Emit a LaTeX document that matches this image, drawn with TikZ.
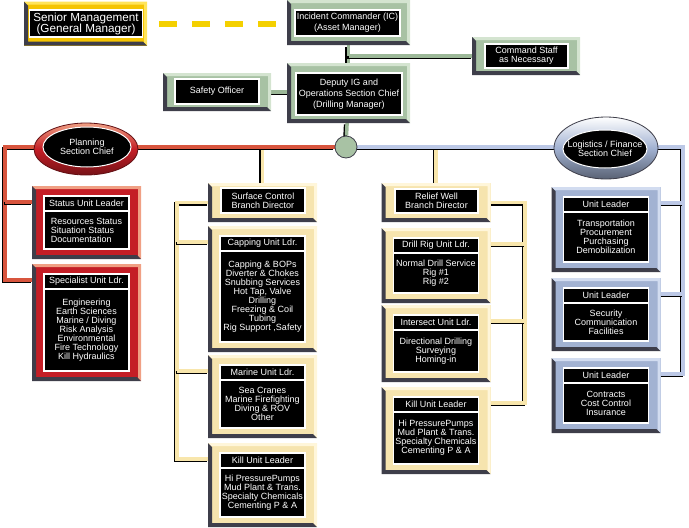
\documentclass[tikz,border=0pt]{standalone}
\usepackage{fontspec}
\setmainfont{Liberation Sans}
\usetikzlibrary{positioning,shapes.geometric,backgrounds}

\definecolor{seniorgold}{HTML}{F5C400}
\definecolor{seniorgoldlight}{HTML}{FFE45A}
\definecolor{sage}{HTML}{A8C2A4}
\definecolor{sagelight}{HTML}{D4E4D0}
\definecolor{boxred}{HTML}{C41E26}
\definecolor{boxredlight}{HTML}{F0A084}
\definecolor{cream}{HTML}{F6E4AE}
\definecolor{creamlight}{HTML}{FFF6DA}
\definecolor{steel}{HTML}{A2B2D2}
\definecolor{steellight}{HTML}{D2DCF0}
\definecolor{edgedark}{HTML}{3E3E4A}
\definecolor{redline}{HTML}{D8553E}
\definecolor{blueline}{HTML}{BCC8E6}
\definecolor{creamline}{HTML}{F8E6AC}
\definecolor{sageline}{HTML}{9CB898}
\definecolor{dashgold}{HTML}{F4D000}

\tikzset{
    bevel/.style 2 args = {fill=#1, draw=none, inner sep=0pt, outer sep=0pt,
        path picture={
            \fill[#2] (path picture bounding box.north west) -- (path picture bounding box.north east) -- (path picture bounding box.south east) -- ([shift={(-3pt,3pt)}]path picture bounding box.south east) -- ([shift={(-3pt,-3pt)}]path picture bounding box.north east) -- ([shift={(3pt,-3pt)}]path picture bounding box.north west) -- cycle;
            \fill[edgedark] (path picture bounding box.north west) -- ([shift={(4pt,-4pt)}]path picture bounding box.north west) -- ([shift={(4pt,4pt)}]path picture bounding box.south west) -- ([shift={(-4pt,4pt)}]path picture bounding box.south east) -- (path picture bounding box.south east) -- (path picture bounding box.south west) -- cycle;
        }},
    gold-box/.style = {bevel={seniorgold}{seniorgoldlight}},
    sage-box/.style = {bevel={sage}{sagelight}},
    red-box/.style = {bevel={boxred}{boxredlight}},
    cream-box/.style = {bevel={cream}{creamlight}},
    steel-box/.style = {bevel={steel}{steellight}},
    inner-box/.style = {fill=black, draw=white, line width=1.2pt, text=white, inner sep=1pt, outer sep=0pt, align=center, minimum width=85pt},
    head-box/.style = {inner-box, minimum height=15pt},
    oval-text/.style = {ellipse, fill=black, draw=white, line width=1pt, inner sep=0pt},
    branch-line/.style = {draw=#1, line width=3.5pt, preaction={draw=black, line width=3.5pt, transform canvas={shift={(-1.5pt,-1.5pt)}}}},
    dash-link/.style = {draw=dashgold, line width=6pt, dash pattern=on 18pt off 15pt, shorten <=12pt, shorten >=8pt},
}

% framed unit: [body options]{name}{frame}{x}{top}{header}{body}{body height}
\newcommand{\unitbox}[8][]{%
    \node[#3, minimum width=109pt, minimum height=#8pt+35pt, anchor=north] (#2) at (#4,#5) {};
    \node[head-box, below=10pt of #2.north] (#2-h) {#6};
    \node[inner-box, below=0pt of #2-h, minimum height=#8pt, #1] (#2-b) {#7};
}

\begin{document}
\begin{tikzpicture}[x=1pt, y=-1pt, font=\fontsize{9}{9}\selectfont]
\useasboundingbox (0,0) rectangle (689,528);

% command level
\node[gold-box, minimum width=123pt, minimum height=44pt] (senior) at (85.5,23.5) {};
\node[inner-box, minimum width=113pt, minimum height=27pt, line width=1.5pt, font=\fontsize{11.7}{11}\selectfont] (senior-t) at (86,23.5) {Senior Management\\(General Manager)};
\node[sage-box, minimum width=123pt, minimum height=45pt] (ic) at (348.5,22.5) {};
\node[inner-box, minimum width=105pt, minimum height=26pt, font=\fontsize{9}{11}\selectfont] (ic-t) at (347.5,23) {Incident Commander (IC)\\(Asset Manager)};
\node[sage-box, minimum width=108pt, minimum height=38pt] (cmd) at (526,56) {};
\node[inner-box, minimum width=83pt, minimum height=24pt] (cmd-t) at (526.5,56) {Command Staff\\as Necessary};
\node[sage-box, minimum width=123pt, minimum height=60pt] (deputy) at (348.5,93) {};
\node[inner-box, minimum width=106pt, minimum height=42pt, font=\fontsize{9}{11}\selectfont] (deputy-t) at (349,94) {Deputy IG and\\Operations Section Chief\\(Drilling Manager)};
\node[sage-box, minimum width=108pt, minimum height=38pt] (safety) at (217,92) {};
\node[inner-box, minimum width=84pt, minimum height=25pt] (safety-t) at (217,91.5) {Safety Officer};
\node[circle, fill=sage, draw=edgedark, line width=0.8pt, minimum size=22pt] (hub) at (346,147) {};

% section chiefs
\node[ellipse, minimum width=104pt, minimum height=52pt, top color=boxredlight, bottom color=boxred!60!black, middle color=boxred, draw=boxred!50!black, line width=0.8pt] (plan) at (86,149) {};
\node[oval-text, minimum width=88pt, minimum height=40pt] (plan-t) at (87,147) {};
\node[text=white, align=center] (plan-l) at (plan-t) {Planning\\Section Chief};
\node[ellipse, minimum width=104pt, minimum height=62pt, top color=white, bottom color=steel!55!black, middle color=steel, draw=edgedark, line width=0.8pt] (logi) at (606,148) {};
\node[oval-text, minimum width=84pt, minimum height=38pt] (logi-t) at (605,149) {};
\node[text=white, align=center] (logi-l) at (logi-t) {Logistics / Finance\\Section Chief};

% planning units
\unitbox[align=left]{status}{red-box}{86.5}{186}{Status Unit Leader}{Resources Status\\Situation Status\\Documentation}{38}
\unitbox{spec}{red-box}{86.5}{264}{Specialist Unit Ldr.}{Engineering\\Earth Sciences\\Marine / Diving\\Risk Analysis\\Environmental\\Fire Technology\\Kill Hydraulics}{82}

% surface control branch
\node[cream-box, minimum width=109pt, minimum height=39pt] (surface) at (262.5,202.5) {};
\node[inner-box, minimum width=84pt, minimum height=25pt] (surface-t) at (263,200.5) {Surface Control\\Branch Director};
\unitbox{capping}{cream-box}{262.5}{226}{Capping Unit Ldr.}{Capping \& BOPs\\Diverter \& Chokes\\Snubbing Services\\Hot Tap, Valve\\Drilling\\Freezing \& Coil\\Tubing\\Rig Support ,Safety}{91}
\unitbox{marine}{cream-box}{262.5}{355}{Marine Unit Ldr.}{Sea Cranes\\Marine Firefighting\\Diving \& ROV\\Other}{48}
\unitbox{killA}{cream-box}{262.5}{443}{Kill Unit Leader}{Hi PressurePumps\\Mud Plant \& Trans.\\Specialty Chemicals\\Cementing P \& A}{49}

% relief well branch
\node[cream-box, minimum width=109pt, minimum height=39pt] (relief) at (436,202.5) {};
\node[inner-box, minimum width=83pt, minimum height=24pt] (relief-t) at (436.5,201) {Relief Well\\Branch Director};
\unitbox{drill}{cream-box}{436}{228}{Drill Rig Unit Ldr.}{Normal Drill Service\\Rig \#1\\Rig \#2}{40}
\unitbox{inter}{cream-box}{436}{305}{Intersect Unit Ldr.}{Directional Drilling\\Surveying\\Homing-in}{42}
\unitbox{killB}{cream-box}{436}{387}{Kill Unit Leader}{Hi PressurePumps\\Mud Plant \& Trans.\\Specialty Chemicals\\Cementing P \& A}{52}

% logistics units
\unitbox{unitA}{steel-box}{606}{187}{Unit Leader}{Transportation\\Procurement\\Purchasing\\Demobilization}{50}
\unitbox{unitB}{steel-box}{606}{278}{Unit Leader}{Security\\Communication\\Facilities}{38}
\unitbox{unitC}{steel-box}{606}{358}{Unit Leader}{Contracts\\Cost Control\\Insurance}{40}

\foreach \b in {status,spec,capping,marine,killA}
    \coordinate (\b-in) at ([yshift=-16pt]\b.north west);
\foreach \b in {drill,inter,killB,unitA,unitB,unitC}
    \coordinate (\b-in) at ([yshift=-16pt]\b.north east);
\coordinate (west-end) at (5,147);
\coordinate (east-end) at (683,147);
\coordinate (surface-spine) at (177,200);
\coordinate (relief-spine) at (525,202);

\begin{scope}[on background layer]
    \draw[dash-link] (senior.east) -- (senior.east -| ic.west);
    \draw[branch-line=sageline] (ic) -- (deputy);
    \draw[branch-line=sageline] (ic.south |- cmd) -- (cmd);
    \draw[branch-line=sageline] (safety) -- (safety -| deputy);
    \draw[branch-line=sageline] (deputy) -- (hub);
    \draw[branch-line=creamline] (surface) -- (surface |- hub);
    \draw[branch-line=creamline] (relief) -- (relief |- hub);
    \draw[branch-line=redline] (hub) -- (west-end) |- (spec-in);
    \draw[branch-line=redline] (west-end |- status-in) -- (status-in);
    \draw[branch-line=blueline] (hub) -- (east-end) |- (unitC-in);
    \foreach \b in {unitA,unitB}
        \draw[branch-line=blueline] (east-end |- \b-in) -- (\b-in);
    \draw[branch-line=creamline] (surface) -- (surface -| surface-spine) |- (killA-in);
    \foreach \b in {capping,marine}
        \draw[branch-line=creamline] (surface-spine |- \b-in) -- (\b-in);
    \draw[branch-line=creamline] (relief) -- (relief -| relief-spine) |- (killB-in);
    \foreach \b in {drill,inter}
        \draw[branch-line=creamline] (relief-spine |- \b-in) -- (\b-in);
\end{scope}
\end{tikzpicture}
\end{document}
